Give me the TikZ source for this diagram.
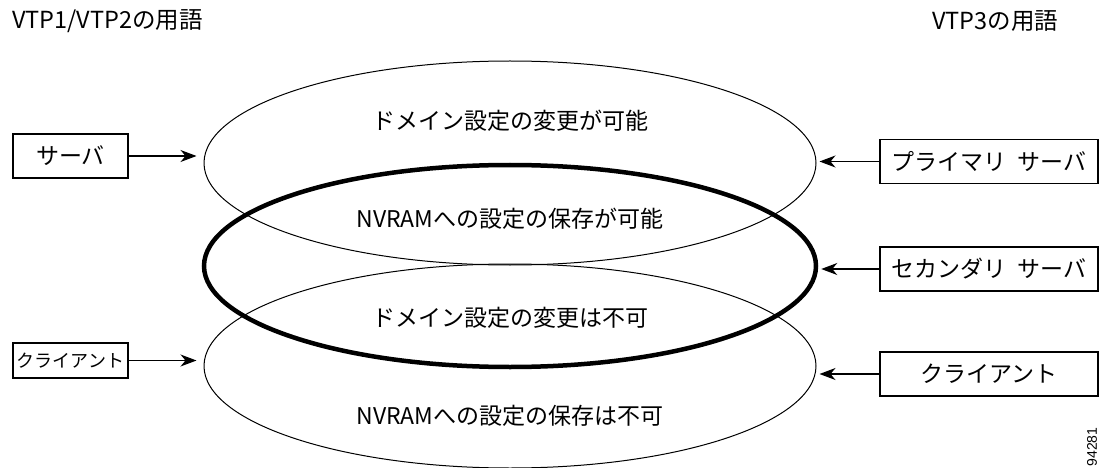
\documentclass[tikz,border=0pt]{standalone}
\usepackage{fontspec}
\setmainfont{Noto Sans CJK JP}
\newfontfamily\figfont{Liberation Sans}
\usetikzlibrary{shapes.geometric,arrows.meta}
\tikzset{
  thinell/.style={draw, ellipse, line width=1pt, minimum width=612pt, minimum height=204pt, inner sep=0pt},
  thickell/.style={draw, ellipse, line width=4.5pt, minimum width=612pt, minimum height=202pt, inner sep=0pt},
  termbox/.style={draw, line width=1.2pt, inner sep=0pt, font=\fontsize{23}{26}\selectfont},
  lbl/.style={font=\fontsize{23}{26}\selectfont, inner sep=0pt},
  ttl/.style={font=\fontsize{23.5}{26}\selectfont, inner sep=0pt},
  arr/.style={line width=1.3pt, -{Stealth[length=16pt,width=12pt,inset=5pt]}}
}
\begin{document}
\begin{tikzpicture}[x=1pt,y=-1pt]
\useasboundingbox (0,0) rectangle (1106,468);
% titles
\node[ttl, anchor=west] (t1) at (12,21) {VTP1/VTP2の用語};
\node[ttl] (t2) at (995,21) {VTP3の用語};
% ellipses
\node[thinell] (topell) at (510,163) {};
\node[thickell] (midell) at (510,266) {};
\node[thinell] (botell) at (510,366) {};
% ellipse texts
\node[lbl] (e1) at (510,121) {ドメイン設定の変更が可能};
\node[lbl] (e2) at (510,219) {NVRAMへの設定の保存が可能};
\node[lbl] (e3) at (510,318) {ドメイン設定の変更は不可};
\node[lbl] (e4) at (510,416) {NVRAMへの設定の保存は不可};
% left boxes
\node[termbox, minimum width=115pt, minimum height=44pt] (srv) at (70.5,156) {サーバ};
\node[termbox, minimum width=115pt, minimum height=35pt, font=\fontsize{18}{20}\selectfont] (cli) at (70.5,360.5) {クライアント};
% right boxes
\node[termbox, minimum width=218pt, minimum height=44pt] (prim) at (989,161.5) {プライマリ\hspace{0.5em}サーバ};
\node[termbox, minimum width=218pt, minimum height=44pt] (sec) at (989,269) {セカンダリ\hspace{0.5em}サーバ};
\node[termbox, minimum width=218pt, minimum height=44pt] (rcli) at (989,374) {クライアント};
% arrows
\draw[arr, shorten >=7pt] (srv.east) -- (srv.east -| topell.west);
\draw[arr, shorten >=7pt] (cli.east) -- (cli.east -| botell.west);
\draw[arr, shorten >=3pt] (prim.west) -- (prim.west -| topell.east);
\draw[arr, shorten >=3pt] (sec.west) -- (sec.west -| midell.east);
\draw[arr, shorten >=3pt] (rcli.west) -- (rcli.west -| botell.east);
% figure number
\node[rotate=90, font=\figfont\fontsize{14}{16}\selectfont, inner sep=0pt] (num) at (1092,447) {94281};
\end{tikzpicture}
\end{document}
